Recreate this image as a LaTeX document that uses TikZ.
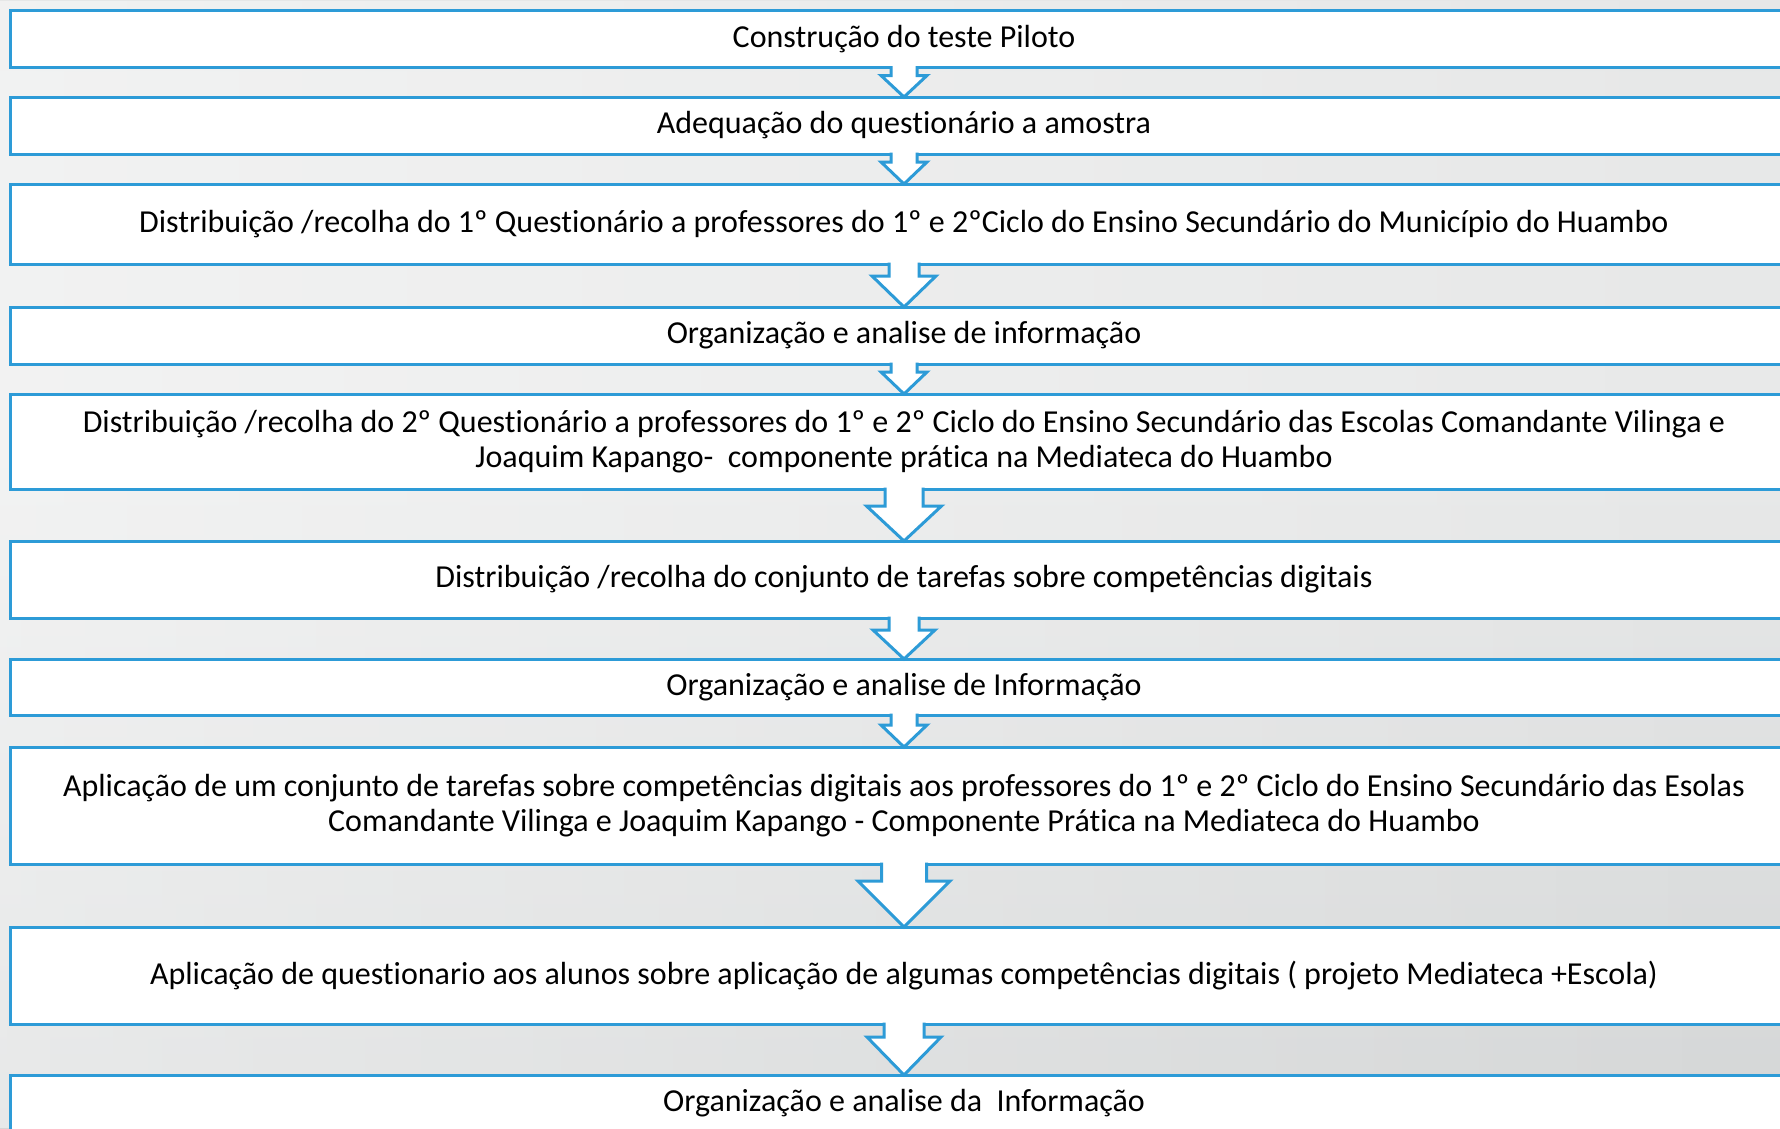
\documentclass[tikz,border=0pt]{standalone}
\usepackage{fontspec}
\setmainfont{Carlito}[Ligatures={NoCommon,NoContextual}]
\usetikzlibrary{calc,fadings}
\definecolor{boxblue}{RGB}{45,155,215}
\definecolor{bgtop}{HTML}{E4E5E5}
\definecolor{bgmid}{HTML}{E8E9E9}
\definecolor{bgbot}{HTML}{C3C6C7}
\pgfdeclareverticalshading{bgshade}{100bp}{color(0bp)=(bgbot); color(55bp)=(bgmid); color(100bp)=(bgtop)}
\newcommand\blockarr[5]{%
  \path let \p1=(#1.south), \p2=(#2.north) in
    [fill=white] (\x1-#3pt,\y1+2.5pt) -- (\x1-#3pt,\y1-#5pt) -- (\x1-#4pt,\y1-#5pt) -- (\x1,\y2) --
    (\x1+#4pt,\y1-#5pt) -- (\x1+#3pt,\y1-#5pt) -- (\x1+#3pt,\y1+2.5pt) -- cycle;
  \draw[arrline] let \p1=(#1.south), \p2=(#2.north) in
    (\x1-#3pt,\y1+1.5pt) -- (\x1-#3pt,\y1-#5pt) -- (\x1-#4pt,\y1-#5pt) -- (\x1,\y2) --
    (\x1+#4pt,\y1-#5pt) -- (\x1+#3pt,\y1-#5pt) -- (\x1+#3pt,\y1+1.5pt);
}
\begin{document}
\begin{tikzpicture}[x=1pt,y=1pt,
  stepbox/.style={draw=boxblue, line width=3pt, fill=white, rectangle,
    minimum width=1788pt, inner sep=0pt, outer sep=0pt, align=center,
    font=\fontsize{32}{35}\selectfont, text=black},
  arrline/.style={draw=boxblue, line width=3pt, line join=miter}]
\useasboundingbox (0,0) rectangle (1780,-1128);
\begin{scope}
\clip (0,0) rectangle (1780,-1128);
\shade[shading=bgshade] (0,0) rectangle (1780,-1128);
\fill[white, opacity=0.45, path fading=east] (0,0) rectangle (1780,-1128);

\node[stepbox, minimum height=57pt] (b1) at (904,-39) {Construção do teste Piloto};
\node[stepbox, minimum height=57pt] (b2) at (904,-125.5) {Adequação do questionário a amostra};
\node[stepbox, minimum height=80pt] (b3) at (904,-224) {Distribuição /recolha do 1º Questionário a professores do 1º e 2ºCiclo do Ensino Secundário do Município do Huambo};
\node[stepbox, minimum height=57pt] (b4) at (904,-335.5) {Organização e analise de informação};
\node[stepbox, minimum height=95pt] (b5) at (904,-441.5) {Distribuição /recolha do 2º Questionário a professores do 1º e 2º Ciclo do Ensino Secundário das Escolas Comandante Vilinga e\\Joaquim Kapango-~ componente prática na Mediateca do Huambo};
\node[stepbox, minimum height=77pt] (b6) at (904,-579.5) {Distribuição /recolha do conjunto de tarefas sobre competências digitais};
\node[stepbox, minimum height=56pt] (b7) at (904,-687) {Organização e analise de Informação};
\node[stepbox, minimum height=117pt] (b8) at (904,-805.5) {Aplicação de um conjunto de tarefas sobre competências digitais aos professores do 1º e 2º Ciclo do Ensino Secundário das Esolas\\Comandante Vilinga e Joaquim Kapango - Componente Prática na Mediateca do Huambo};
\node[stepbox, minimum height=97pt] (b9) at (904,-975.5) {Aplicação de questionario aos alunos sobre aplicação de algumas competências digitais ( projeto Mediateca +Escola)};
\node[stepbox, minimum height=57pt] (b10) at (904,-1103.5) {Organização e analise da~ Informação};

\blockarr{b1}{b2}{13}{23}{8}
\blockarr{b2}{b3}{13}{23}{8}
\blockarr{b3}{b4}{15}{32}{12}
\blockarr{b4}{b5}{13}{23}{8}
\blockarr{b5}{b6}{19}{37.5}{17}
\blockarr{b6}{b7}{15}{31}{12}
\blockarr{b7}{b8}{13}{23}{10}
\blockarr{b8}{b9}{22.5}{46}{17}
\blockarr{b9}{b10}{20}{37}{13}
\end{scope}
\end{tikzpicture}
\end{document}
